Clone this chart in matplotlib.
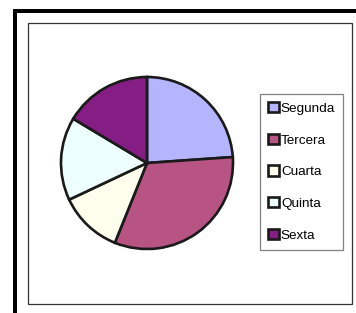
import matplotlib
matplotlib.use('Agg')
from matplotlib import pyplot as plt
from matplotlib.patches import Rectangle

plt.rcParams['font.family'] = ['Liberation Sans', 'DejaVu Sans']

labels = ['Segunda', 'Tercera', 'Cuarta', 'Quinta', 'Sexta']
values = [23.9, 32.2, 11.9, 15.6, 16.4]
colors = ['#B4B4FF', '#B85484', '#FFFFEE', '#EEFFFF', '#841E84']

W, H = 356, 313
fig = plt.figure(figsize=(W / 100, H / 100), dpi=100)

def box(x0, y0, x1, y1):
    # pixel box (top-left origin) -> figure fraction rect
    return [x0 / W, 1 - y1 / H, (x1 - x0) / W, (y1 - y0) / H]

# thick black outer border (top and left)
fig.add_artist(Rectangle((13 / W, 1 - 13 / H), 1 - 13 / W, 4 / H,
                         transform=fig.transFigure, color='black', lw=0))
fig.add_artist(Rectangle((13 / W, 0), 4 / W, 1 - 9 / H,
                         transform=fig.transFigure, color='black', lw=0))

# inner chart frame, kept behind the pie
fx, fy, fw, fh = box(28, 23, 352, 304)
fig.add_artist(Rectangle((fx, fy), fw, fh, transform=fig.transFigure,
                         facecolor='white', edgecolor='#333333', lw=0.9,
                         zorder=-1))

# pie
cx, cy, r = 147, 163, 86
ax = fig.add_axes(box(cx - r, cy - r, cx + r, cy + r))
ax.set_zorder(2)
wedges, _ = ax.pie(values, colors=colors, startangle=90, counterclock=False,
                   wedgeprops=dict(edgecolor='#1a1a1a', linewidth=1.9))
ax.set_xlim(-1, 1)
ax.set_ylim(-1, 1)
ax.set_aspect('equal')

leg = fig.legend(wedges, labels, loc='upper left',
                 bbox_to_anchor=(260 / W, 1 - 94 / H), borderaxespad=0,
                 fontsize=9.7, handlelength=0.8, handleheight=0.8,
                 handletextpad=0.15, labelspacing=1.4, borderpad=0.6,
                 fancybox=False, framealpha=1)
leg.get_frame().set_edgecolor('#808080')
leg.get_frame().set_linewidth(0.9)
leg.set_zorder(3)

fig.savefig('out.png', dpi=100)
